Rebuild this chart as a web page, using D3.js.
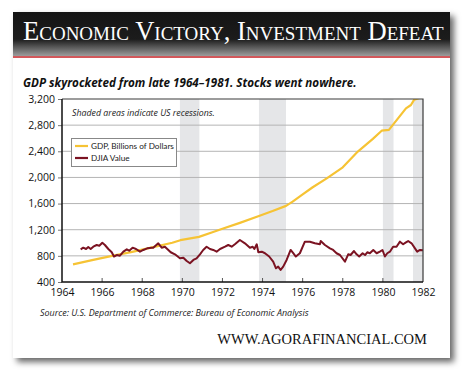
<!DOCTYPE html>
<html><head><meta charset="utf-8">
<script src="https://cdn.jsdelivr.net/npm/d3@7"></script>
<style>body{margin:0;background:#fff}svg{display:block}</style>
</head><body>
<svg id="c" width="470" height="379"></svg>
<script>
const title = "Economic Victory, Investment Defeat";
const subtitle = "GDP skyrocketed from late 1964\u20131981. Stocks went nowhere.";
const note = "Shaded areas indicate US recessions.";
const source = "Source: U.S. Department of Commerce: Bureau of Economic Analysis";
const site = "WWW.AGORAFINANCIAL.COM";
const seriesNames = ["GDP, Billions of Dollars", "DJIA Value"];
const yTicks = [400, 800, 1200, 1600, 2000, 2400, 2800, 3200];
const xTicks = [1964, 1966, 1968, 1970, 1972, 1974, 1976, 1978, 1980, 1982];
const recessions = [[1969.88, 1970.85], [1973.82, 1975.17], [1980.0, 1980.53], [1981.5, 1982]];

const gdpYears = [1964.55,1965.5,1966.5,1967.5,1968.5,1969.5,1969.9,1970.83,1971.5,1972.0,1972.87,1973.82,1974.5,1975.17,1975.5,1976.0,1976.5,1977.2,1978.0,1978.75,1979.5,1979.94,1980.3,1981.15,1981.4,1981.56,1981.75,1982];
const gdpValues = [670,735,800,860,930,1000,1040,1090,1160,1215,1305,1410,1485,1565,1630,1740,1850,1985,2155,2395,2590,2715,2728,3057,3108,3190,3210,3230];

const djiaYears = [1964.93,1965.06,1965.20,1965.31,1965.43,1965.56,1965.73,1965.86,1966.01,1966.14,1966.31,1966.48,1966.59,1966.73,1966.89,1967.06,1967.23,1967.35,1967.52,1967.69,1967.89,1968.05,1968.25,1968.47,1968.55,1968.80,1968.97,1969.13,1969.42,1969.63,1969.88,1970.05,1970.22,1970.38,1970.55,1970.71,1970.88,1971.04,1971.21,1971.38,1971.54,1971.71,1971.88,1972.13,1972.29,1972.46,1972.62,1972.87,1973.12,1973.37,1973.51,1973.59,1973.71,1973.79,1973.96,1974.12,1974.33,1974.53,1974.67,1974.78,1974.90,1975.03,1975.20,1975.40,1975.53,1975.66,1975.86,1976.11,1976.36,1976.61,1976.86,1976.90,1977.11,1977.36,1977.52,1977.69,1977.86,1978.11,1978.27,1978.39,1978.56,1978.69,1978.82,1978.99,1979.11,1979.22,1979.35,1979.52,1979.69,1979.85,1979.98,1980.10,1980.22,1980.35,1980.51,1980.68,1980.85,1981.01,1981.15,1981.26,1981.43,1981.60,1981.71,1981.85,1982.0];
const djiaValues = [900,925,905,935,905,940,966,955,1000,966,905,855,790,813,802,864,900,879,925,905,864,890,915,925,925,992,925,940,855,824,762,772,721,686,737,762,824,890,940,905,890,864,905,940,966,940,977,1043,992,925,940,905,977,855,864,840,790,711,610,635,584,635,737,890,840,790,840,1017,1017,992,977,1027,966,915,890,840,813,711,824,813,874,824,790,840,813,855,840,890,840,864,890,790,840,864,940,940,1017,977,1007,1027,992,915,864,890,884];

const svg = d3.select("#c");
const defs = svg.append("defs");
const f = defs.append("filter").attr("id","sh").attr("x","-10%").attr("y","-10%").attr("width","125%").attr("height","125%");
f.append("feDropShadow").attr("dx",4).attr("dy",4).attr("stdDeviation",3).attr("flood-color","#000").attr("flood-opacity",0.6);
const g1 = defs.append("linearGradient").attr("id","tg").attr("x1",0).attr("y1",0).attr("x2",0).attr("y2",1);
g1.append("stop").attr("offset","0").attr("stop-color","#141414");
g1.append("stop").attr("offset","0.62").attr("stop-color","#1c1c1c");
g1.append("stop").attr("offset","1").attr("stop-color","#9c9c9c");

// card
svg.append("rect").attr("x",13).attr("y",12).attr("width",437).attr("height",346).attr("fill","#fff").attr("filter","url(#sh)");
svg.append("rect").attr("x",13).attr("y",12).attr("width",437).attr("height",44).attr("fill","url(#tg)");
svg.append("rect").attr("x",13).attr("y",56).attr("width",437).attr("height",2).attr("fill","#d2585b");

function fit(sel, w){
  const n = sel.node(); const fs = parseFloat(sel.attr("font-size"));
  const cw = n.getComputedTextLength(); sel.attr("font-size", fs*w/cw);
  return fs*w/cw;
}
const t = svg.append("text").attr("x",23).attr("y",40).attr("fill","#fff")
  .attr("font-family","Liberation Serif, DejaVu Serif, serif").attr("font-size",20)
  .style("font-variant","small-caps").text(title);
fit(t, 414);
const st = svg.append("text").attr("x",23).attr("y",87).attr("fill","#111")
  .attr("font-family","Open Sans, sans-serif").attr("font-size",12).attr("font-weight","bold").attr("font-style","italic").text(subtitle);
fit(st, 334);

const m = {l:62, t:99, r:423, b:282};
const x = d3.scaleLinear().domain([1964,1982]).range([m.l, m.r]);
const y = d3.scaleLinear().domain([400,3200]).range([m.b, m.t]);

const plot = svg.append("g");
plot.selectAll(".rec").data(recessions).join("rect")
  .attr("x", d=>x(d[0])).attr("width", d=>x(d[1])-x(d[0]))
  .attr("y", m.t).attr("height", m.b-m.t).attr("fill","#e5e6e8");

const ya = svg.append("g").attr("transform",`translate(${m.l},0)`)
  .call(d3.axisLeft(y).tickValues(yTicks).tickFormat(d3.format(",")).tickSize(4).tickPadding(3));
ya.select(".domain").remove();
ya.selectAll("text").attr("font-family","Open Sans, sans-serif").attr("font-size",10.5).attr("fill","#111");
ya.selectAll("line").attr("stroke","#777");
svg.append("g").selectAll("line").data(yTicks.slice(1,-1)).join("line")
  .attr("x1",m.l).attr("x2",m.r).attr("y1",d=>y(d)).attr("y2",d=>y(d)).attr("stroke","#b4b4b4").attr("stroke-width",1);

const xa = svg.append("g").attr("transform",`translate(0,${m.b})`)
  .call(d3.axisBottom(x).tickValues(xTicks).tickFormat(d3.format("d")).tickSize(0).tickPadding(7));
xa.select(".domain").remove();
xa.selectAll("text").attr("font-family","Open Sans, sans-serif").attr("font-size",10.5).attr("fill","#111");
svg.append("g").selectAll("line").data(xTicks.slice(1,-1)).join("line")
  .attr("x1",d=>x(d)).attr("x2",d=>x(d)).attr("y1",m.b).attr("y2",m.b-4).attr("stroke","#555");

defs.append("clipPath").attr("id","pc").append("rect").attr("x",m.l).attr("y",m.t).attr("width",m.r-m.l).attr("height",m.b-m.t);
const line = d3.line().x(d=>x(d[0])).y(d=>y(d[1]));
const lines = svg.append("g").attr("clip-path","url(#pc)");
lines.append("path").datum(gdpYears.map((d,i)=>[d,gdpValues[i]])).attr("d",line)
  .attr("fill","none").attr("stroke","#f6c334").attr("stroke-width",2.2).attr("stroke-linejoin","round");
lines.append("path").datum(djiaYears.map((d,i)=>[d,djiaValues[i]])).attr("d",line)
  .attr("fill","none").attr("stroke","#7b1322").attr("stroke-width",2).attr("stroke-linejoin","round");

// frame
svg.append("path").attr("d",`M${m.l},${m.t}H${m.r}V${m.b}`).attr("fill","none").attr("stroke","#3a3a3a").attr("stroke-width",1.2);
svg.append("path").attr("d",`M${m.l},${m.t}V${m.b}H${m.r}`).attr("fill","none").attr("stroke","#111").attr("stroke-width",1.5);

const nt = svg.append("text").attr("x",72).attr("y",115.5).attr("fill","#222")
  .attr("font-family","Open Sans, sans-serif").attr("font-size",9.5).attr("font-style","italic").text(note);
fit(nt, 143);

// legend
svg.append("rect").attr("x",71.5).attr("y",138.5).attr("width",105).attr("height",28).attr("fill","#fff").attr("stroke","#888");
const lg = svg.append("g");
const colors = ["#f6c334","#7b1322"];
let legendFs = 9.5;
seriesNames.forEach((s,i)=>{
  const yy = 146 + i*12;
  lg.append("line").attr("x1",75).attr("x2",88).attr("y1",yy).attr("y2",yy).attr("stroke",colors[i]).attr("stroke-width",2.2);
  const tx = lg.append("text").attr("x",91).attr("y",yy+3.3).attr("fill","#222")
    .attr("font-family","Lato, sans-serif").attr("font-size",legendFs).text(s);
  if(i===0) legendFs = fit(tx, 83);
});

const so = svg.append("text").attr("x",40).attr("y",315.5).attr("fill","#222")
  .attr("font-family","Open Sans, sans-serif").attr("font-size",10).attr("font-style","italic").text(source);
fit(so, 269);
const ws = svg.append("text").attr("x",427).attr("y",344).attr("text-anchor","end").attr("fill","#111")
  .attr("font-family","Liberation Serif, DejaVu Serif, serif").attr("font-size",14).text(site);
fit(ws, 210);
</script>
</body></html>
